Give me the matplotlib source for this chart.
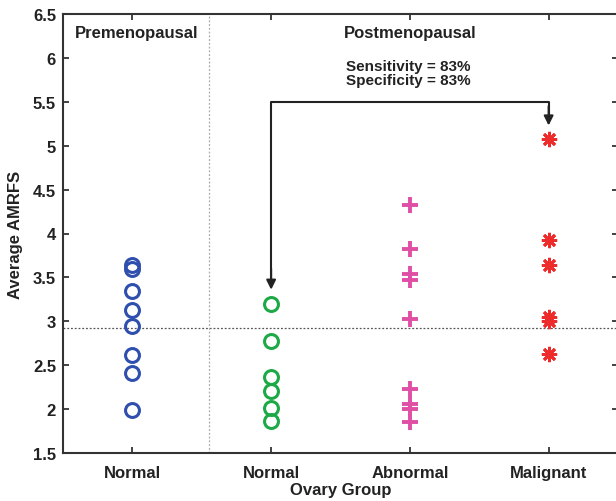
import matplotlib
matplotlib.use('Agg')
import matplotlib.pyplot as plt

plt.rcParams['font.family'] = ['Liberation Sans', 'DejaVu Sans']
plt.rcParams['font.weight'] = 'bold'

# group positions and labels
categories = ['Normal', 'Normal', 'Abnormal', 'Malignant']
positions = [1, 2, 3, 4]

# Average AMRFS values
pre_normal = [3.64, 3.60, 3.35, 3.13, 2.95, 2.62, 2.41, 1.99]
post_normal = [3.20, 2.78, 2.36, 2.21, 2.01, 1.86]
post_abnormal = [4.32, 3.82, 3.54, 3.47, 3.03, 2.23, 2.06, 2.00, 1.85]
post_malignant = [5.08, 3.93, 3.64, 3.05, 3.00, 2.63]

threshold = 2.92

fig = plt.figure(figsize=(6.16, 5.02), dpi=100)
ax = fig.add_axes([63 / 616, 48 / 502, 555 / 616, 439 / 502])

ax.plot([1] * len(pre_normal), pre_normal, 'o', ms=10, mfc='none',
        mec='#2f4fae', mew=2.2, clip_on=False)
ax.plot([2] * len(post_normal), post_normal, 'o', ms=10, mfc='none',
        mec='#1daa46', mew=2.2, clip_on=False)
ax.plot([3] * len(post_abnormal), post_abnormal, '+', ms=11,
        mec='#e04fa6', mew=2.8)
ax.plot([4] * len(post_malignant), post_malignant, marker=(8, 2, 0),
        ls='none', ms=11, mec='#ee2b2b', mfc='#ee2b2b', mew=2.0)

# threshold and divider lines
ax.axhline(threshold, color='#555555', lw=0.9, ls=(0, (1.5, 1.5)), zorder=0)
ax.axvline(1.555, color='#aaaaaa', lw=0.9, ls=(0, (1.5, 1.5)), zorder=0)

# arrows
ax.plot([2, 2, 4, 4], [3.45, 5.5, 5.5, 5.3], color='#222222', lw=1.5)
ax.annotate('', xy=(2, 3.36), xytext=(2, 3.6),
            arrowprops=dict(arrowstyle='-|>', color='#222222', lw=1.5,
                            mutation_scale=14, shrinkA=0, shrinkB=0))
ax.annotate('', xy=(4, 5.23), xytext=(4, 5.45),
            arrowprops=dict(arrowstyle='-|>', color='#222222', lw=1.5,
                            mutation_scale=14, shrinkA=0, shrinkB=0))

ax.text(2.99, 5.83, 'Sensitivity = 83%\nSpecificity = 83%', ha='center',
        va='center', fontsize=11, fontweight='bold', linespacing=1.0,
        color='#222222')
ax.text(1.03, 6.29, 'Premenopausal', ha='center', va='center', fontsize=12,
        fontweight='bold', color='#222222')
ax.text(3.0, 6.29, 'Postmenopausal', ha='center', va='center', fontsize=12,
        fontweight='bold', color='#222222')

ax.set_xlim(0.5, 4.5)
ax.set_ylim(1.5, 6.5)
ax.set_xticks(positions)
ax.set_xticklabels(categories)
ax.set_yticks([1.5, 2, 2.5, 3, 3.5, 4, 4.5, 5, 5.5, 6, 6.5])
ax.set_yticklabels(['1.5', '2', '2.5', '3', '3.5', '4', '4.5', '5', '5.5',
                    '6', '6.5'])
ax.tick_params(direction='in', length=4, width=1.2, top=True, right=True,
               labelsize=12, colors='#222222', pad=5)
ax.tick_params(axis='x', pad=9)
for s in ax.spines.values():
    s.set_linewidth(1.5)
    s.set_color('#333333')

ax.set_xlabel('Ovary Group', fontsize=12, fontweight='bold', color='#222222',
              labelpad=1)
ax.set_ylabel('Average AMRFS', fontsize=12, fontweight='bold',
              color='#222222', labelpad=7)

fig.savefig('out.png', dpi=100)
